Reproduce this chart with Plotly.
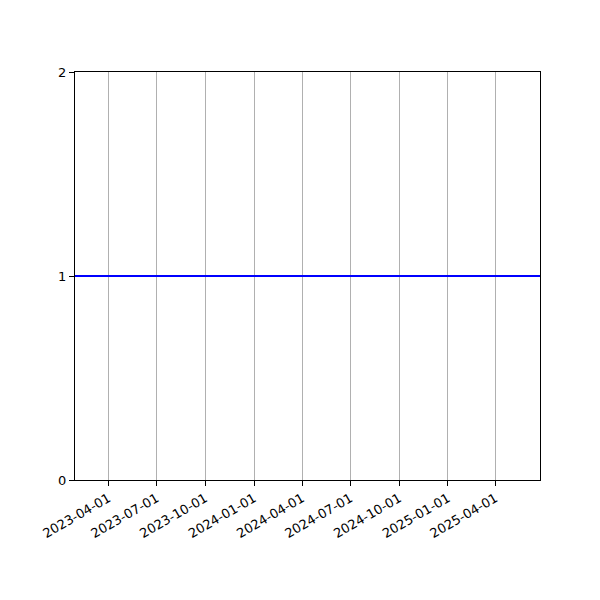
import plotly.graph_objects as go

# 数据
dates = ["2023-01-28", "2025-06-24"]
values = [1, 1]
tick_dates = ["2023-04-01", "2023-07-01", "2023-10-01", "2024-01-01", "2024-04-01",
              "2024-07-01", "2024-10-01", "2025-01-01", "2025-04-01"]
y_ticks = [0, 1, 2]

fig = go.Figure()
fig.add_trace(go.Scatter(x=dates, y=values, mode="lines",
                         line=dict(color="#0000ff", width=2), showlegend=False))

fig.update_layout(
    width=600, height=600,
    paper_bgcolor="white", plot_bgcolor="white",
    font=dict(family="DejaVu Sans", size=13, color="black"),
    margin=dict(l=67, r=68, t=64, b=128),
)
fig.update_xaxes(
    type="date", range=[dates[0], dates[-1]],
    tickvals=tick_dates, ticktext=tick_dates, tickangle=-30,
    showgrid=True, gridcolor="#b0b0b0", gridwidth=1,
    showline=True, linecolor="black", linewidth=1, mirror=True,
    ticks="outside", ticklen=5, tickcolor="black", zeroline=False,
)
fig.update_yaxes(
    range=[0, 2], tickvals=y_ticks,
    showgrid=False,
    showline=True, linecolor="black", linewidth=1, mirror=True,
    ticks="outside", ticklen=5, tickcolor="black", zeroline=False,
)

fig.write_html("out.html")
